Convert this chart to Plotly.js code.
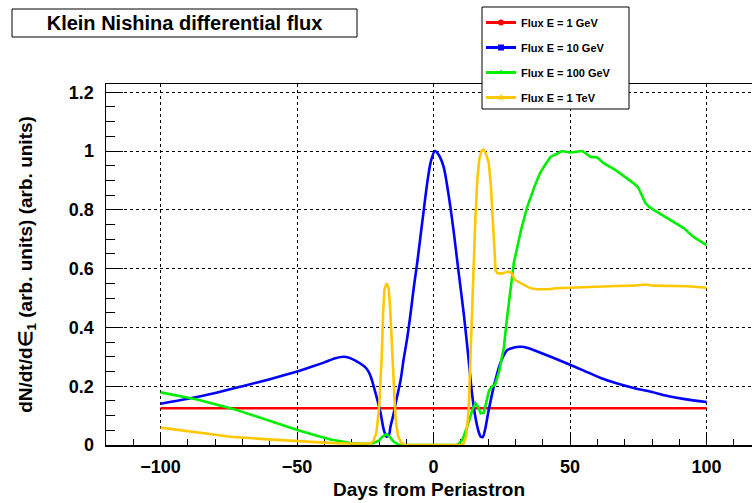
<!DOCTYPE html>
<html>
<head>
<meta charset="utf-8">
<script src="https://cdn.plot.ly/plotly-3.0.1.min.js"></script>
<style>html,body{margin:0;padding:0;background:#fff;}#chart{width:752px;height:503px;}</style>
</head>
<body>
<div id="chart"></div>
<script>
// ---- data ----
const seriesNames = ["Flux E = 1 GeV", "Flux E = 10 GeV", "Flux E = 100 GeV", "Flux E = 1 TeV"];

const red_x = [-100, -50, 0, 50, 100];
const red_y = [0.125, 0.125, 0.125, 0.125, 0.125];

const blue_x = [-100,-90,-80,-70,-60,-50,-45,-40,-36,-33,-31,-29,-27,-25,-24,-23,-21.9,-20.5,-19.4,-18.2,-17.2,-16.3,-15.8,-14.8,-13.9,-12.1,-11,-9.6,-8.4,-7.2,-6,-4,-2.2,-1,0.5,2,3.7,5.5,7.3,9,11,12.5,14.2,15.5,16.5,17.3,18,18.8,20,22,24.5,27,29.5,32,34.5,36.6,42.9,50.2,55,61.2,67,73.3,80,85.6,92,100];
const blue_y = [0.14,0.157,0.177,0.20,0.224,0.25,0.265,0.281,0.295,0.30,0.297,0.289,0.278,0.264,0.252,0.232,0.198,0.15,0.108,0.05,0.028,0.035,0.062,0.10,0.142,0.22,0.29,0.368,0.45,0.54,0.62,0.77,0.90,0.965,1.0,0.985,0.945,0.85,0.73,0.60,0.45,0.32,0.165,0.085,0.045,0.028,0.027,0.05,0.11,0.197,0.28,0.323,0.332,0.334,0.33,0.323,0.30,0.272,0.253,0.228,0.21,0.194,0.18,0.167,0.156,0.146];

const green_x = [-100,-86.6,-73.1,-62.2,-49.9,-43,-37.7,-30.4,-25,-22.3,-20,-18.8,-17.2,-15.8,-14.5,-13,-12,8,9,10.5,12.3,14.2,15.4,16.3,17.2,18.4,19.3,20.3,21.5,22.5,24,25.7,27,29.4,32,34.3,37,39,41,42.8,45,47,50,52.6,54.5,56,57.5,60,62.4,66.7,70.3,73.3,75,76.3,77.6,79,80.6,85.6,91.6,95.2,100];
const green_y = [0.179,0.155,0.122,0.088,0.051,0.032,0.019,0.007,0.004,0.006,0.015,0.028,0.037,0.025,0.01,0.002,0,0,0.003,0.017,0.062,0.119,0.142,0.13,0.108,0.11,0.15,0.185,0.2,0.205,0.25,0.33,0.44,0.62,0.73,0.81,0.88,0.925,0.955,0.98,0.99,1.0,0.995,0.997,1.0,0.99,0.98,0.978,0.958,0.935,0.91,0.89,0.875,0.85,0.823,0.81,0.80,0.772,0.738,0.708,0.68];

const yellow_x = [-100,-87,-74.4,-62,-49.9,-40,-31.6,-25,-23,-22,-21,-20,-19.5,-19,-18.5,-18,-17.2,-16.5,-16,-15.5,-15,-14.5,-14,-13.5,-13,-12,-11,10,11,12,12.9,13.5,14,14.7,15.3,16,16.7,17.5,18.3,19.2,20.2,21,21.6,22.2,22.7,23.3,25,27.2,28.5,30,33,35.5,38,42,45,50,55,61,67,73,77.6,80.5,86.5,93,100];
const yellow_y = [0.059,0.043,0.028,0.02,0.013,0.008,0.005,0.004,0.005,0.015,0.04,0.12,0.2,0.3,0.45,0.53,0.55,0.535,0.48,0.37,0.26,0.16,0.10,0.06,0.03,0.01,0,0,0.005,0.03,0.13,0.3,0.44,0.62,0.77,0.9,0.97,1.0,1.005,0.99,0.96,0.88,0.79,0.66,0.595,0.585,0.583,0.59,0.585,0.56,0.545,0.533,0.53,0.53,0.533,0.535,0.537,0.54,0.541,0.542,0.546,0.542,0.542,0.54,0.535];

const xTickVals = [-100, -50, 0, 50, 100];
const yTickVals = [0, 0.2, 0.4, 0.6, 0.8, 1, 1.2];

// ---- styles ----
const colors = ["#ff0000", "#0000ff", "#00ee00", "#ffc800"];
const symbols = ["circle", "square", "triangle-up", "star"];
const FONT = "Liberation Sans, Arial, Helvetica, sans-serif";

const dataX = [red_x, blue_x, green_x, yellow_x];
const dataY = [red_y, blue_y, green_y, yellow_y];
const shapesLine = ["linear", "spline", "linear", "linear"];

const traces = [];
for (let i = 0; i < 4; i++) {
  traces.push({
    x: dataX[i], y: dataY[i], type: "scatter", mode: "lines",
    line: {color: colors[i], width: 2.6, shape: shapesLine[i], smoothing: 0.8},
    showlegend: false, hoverinfo: "skip"
  });
}
for (let i = 0; i < 4; i++) {
  traces.push({
    x: [null], y: [null], type: "scatter", mode: "lines+markers",
    name: seriesNames[i], legendgroup: "g" + i,
    line: {color: colors[i], width: 3},
    marker: {color: colors[i], symbol: symbols[i], size: 6, line: {width: 0}}
  });
}

const W = 752, H = 503, L = 106, R = 0, T = 84, B = 58;
const pw = W - L - R, ph = H - T - B;
const px = v => (v - L) / pw;
const py = v => (H - B - v) / ph;

const layout = {
  width: W, height: H,
  margin: {l: L, r: R, t: T, b: B, pad: 0},
  paper_bgcolor: "#fff", plot_bgcolor: "#fff",
  font: {family: FONT, color: "#000", weight: "bold"},
  title: {
    text: "Klein Nishina differential flux",
    font: {family: FONT, size: 20, weight: "bold", color: "#000"},
    xref: "paper", x: px(184.5), xanchor: "center",
    yref: "container", y: 1 - 23 / H, yanchor: "middle"
  },
  xaxis: {
    range: [-120, (W - L) / 2.73 - 120],
    tickmode: "array", tickvals: xTickVals,
    ticks: "inside", ticklen: 12, tickwidth: 1, tickcolor: "#000",
    minor: {dtick: 10, tick0: 0, ticks: "inside", ticklen: 6, tickwidth: 1, tickcolor: "#000", showgrid: false},
    showgrid: true, gridcolor: "#000", griddash: "dot", gridwidth: 1,
    showline: true, linecolor: "#000", linewidth: 1.5, mirror: true,
    zeroline: false, layer: "below traces",
    tickfont: {family: FONT, size: 18, weight: "bold", color: "#000"},
    ticklabelstandoff: 5,
    title: {text: "Days from Periastron", font: {family: FONT, size: 19, weight: "bold", color: "#000"}, standoff: 6}
  },
  yaxis: {
    range: [0, 1.228],
    tickmode: "array", tickvals: yTickVals,
    ticks: "inside", ticklen: 17, tickwidth: 1, tickcolor: "#000",
    minor: {dtick: 0.05, tick0: 0, ticks: "inside", ticklen: 9, tickwidth: 1, tickcolor: "#000", showgrid: false},
    showgrid: true, gridcolor: "#000", griddash: "dot", gridwidth: 1,
    showline: true, linecolor: "#000", linewidth: 1.5, mirror: false,
    zeroline: false, layer: "below traces",
    tickfont: {family: FONT, size: 18, weight: "bold", color: "#000"},
    ticklabelstandoff: 7,
    title: {text: "dN/dt/d\u2208<sub>1</sub> (arb. units) (arb. units)", font: {family: FONT, size: 19, weight: "bold", color: "#000"}, standoff: 31}
  },
  showlegend: true,
  legend: {
    x: px(481), xanchor: "left", xref: "paper",
    y: py(8), yanchor: "top", yref: "paper",
    bgcolor: "rgba(0,0,0,0)", borderwidth: 0,
    font: {family: FONT, size: 11, weight: "bold", color: "#000"},
    tracegroupgap: 6, traceorder: "grouped"
  },
  shapes: [
    {type: "rect", xref: "paper", yref: "paper", x0: px(12), x1: px(357), y0: py(37), y1: py(9),
     line: {color: "#000", width: 1}, fillcolor: "#fff", layer: "above"},
    {type: "rect", xref: "paper", yref: "paper", x0: px(482), x1: px(629), y0: py(109), y1: py(7),
     line: {color: "#000", width: 1}, fillcolor: "#fff", layer: "above"}
  ]
};

Plotly.newPlot("chart", traces, layout, {displayModeBar: false, staticPlot: true});
</script>
</body>
</html>
